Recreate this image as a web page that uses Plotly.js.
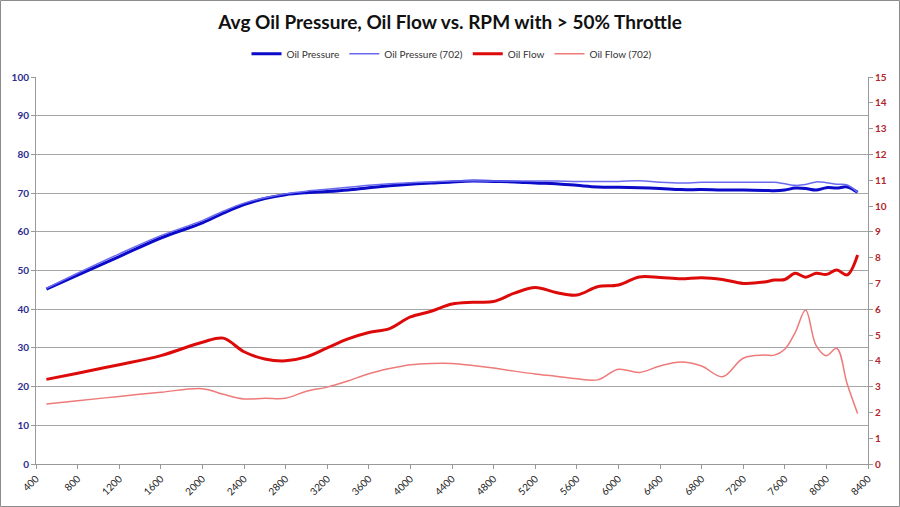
<!DOCTYPE html>
<html>
<head>
<meta charset="utf-8">
<script src="https://cdn.plot.ly/plotly-3.0.1.min.js"></script>
<style>
html,body{margin:0;padding:0;background:#fff;}
#chart{width:900px;height:507px;}
</style>
</head>
<body>
<div id="chart"></div>
<script>
const rpm = [500, 800, 1200, 1600, 2000, 2200, 2400, 2600, 2800, 3000, 3200, 3400, 3600, 3800, 4000, 4200, 4400, 4600, 4800, 5000, 5200, 5400, 5600, 5800, 6000, 6200, 6400, 6600, 6800, 7000, 7200, 7400, 7500, 7600, 7700, 7800, 7900, 8000, 8100, 8200, 8300];

const oilPressure = [45.2, 48.8, 53.6, 58.4, 62.3, 64.8, 67.0, 68.6, 69.6, 70.1, 70.4, 70.8, 71.4, 71.9, 72.3, 72.6, 72.9, 73.1, 73.0, 72.9, 72.6, 72.4, 72.0, 71.6, 71.5, 71.4, 71.2, 70.9, 70.9, 70.8, 70.8, 70.7, 70.6, 70.8, 71.3, 71.2, 70.8, 71.4, 71.3, 71.6, 70.2];

const oilPressure702 = [45.4, 49.3, 54.3, 59.0, 62.9, 65.3, 67.4, 68.8, 69.8, 70.5, 71.0, 71.5, 72.0, 72.4, 72.7, 72.9, 73.1, 73.2, 73.1, 73.1, 73.1, 73.1, 73.0, 73.0, 73.0, 73.2, 72.8, 72.6, 72.8, 72.8, 72.8, 72.8, 72.8, 72.4, 72.0, 72.2, 72.9, 72.7, 72.3, 72.1, 70.2];

const oilFlow = [3.28, 3.52, 3.85, 4.2, 4.72, 4.88, 4.35, 4.07, 4.0, 4.15, 4.5, 4.85, 5.1, 5.25, 5.7, 5.92, 6.2, 6.27, 6.3, 6.62, 6.84, 6.65, 6.55, 6.87, 6.94, 7.25, 7.23, 7.18, 7.22, 7.15, 7.0, 7.05, 7.13, 7.15, 7.39, 7.24, 7.39, 7.35, 7.52, 7.33, 8.1];

const oilFlow702 = [2.33, 2.45, 2.62, 2.78, 2.92, 2.7, 2.52, 2.55, 2.55, 2.82, 2.98, 3.22, 3.5, 3.7, 3.85, 3.9, 3.9, 3.82, 3.72, 3.6, 3.49, 3.4, 3.3, 3.26, 3.67, 3.55, 3.8, 3.95, 3.8, 3.38, 4.1, 4.22, 4.22, 4.45, 5.1, 5.97, 4.6, 4.2, 4.48, 3.1, 1.96];

const xTicks = [400, 800, 1200, 1600, 2000, 2400, 2800, 3200, 3600, 4000, 4400, 4800, 5200, 5600, 6000, 6400, 6800, 7200, 7600, 8000, 8400];

const FONT = 'Lato, "Open Sans", sans-serif';

const traces = [
  {x: rpm, y: oilPressure, name: 'Oil Pressure', type: 'scatter', mode: 'lines',
   line: {color: '#0a0ac8', width: 3, shape: 'spline', smoothing: 1}, yaxis: 'y'},
  {x: rpm, y: oilPressure702, name: 'Oil Pressure (702)', type: 'scatter', mode: 'lines',
   line: {color: '#6a6af0', width: 1.5, shape: 'spline', smoothing: 1}, yaxis: 'y'},
  {x: rpm, y: oilFlow, name: 'Oil Flow', type: 'scatter', mode: 'lines',
   line: {color: '#dd0a0a', width: 3, shape: 'spline', smoothing: 1}, yaxis: 'y2'},
  {x: rpm, y: oilFlow702, name: 'Oil Flow (702)', type: 'scatter', mode: 'lines',
   line: {color: '#ee7a7a', width: 1.5, shape: 'spline', smoothing: 1}, yaxis: 'y2'}
];

const W = 832, H = 387;
const layout = {
  width: 900, height: 507,
  margin: {l: 36, r: 32, t: 77, b: 43, pad: 0},
  paper_bgcolor: '#fff', plot_bgcolor: '#fff',
  font: {family: FONT, size: 10, color: '#222'},
  title: {text: 'Avg Oil Pressure, Oil Flow vs. RPM with > 50% Throttle',
          font: {family: FONT, size: 19, color: '#111', weight: 'bold'},
          x: 0.5, xanchor: 'center', y: 0.955, yanchor: 'middle'},
  showlegend: true,
  legend: {orientation: 'h', x: 0.5, xanchor: 'center', y: 1.06, yanchor: 'middle',
           font: {family: FONT, size: 10, color: '#333'}, itemwidth: 30, bgcolor: 'rgba(0,0,0,0)'},
  xaxis: {range: [400, 8400], tickmode: 'array', tickvals: xTicks, ticktext: xTicks.map(String),
          tickangle: -45, ticks: 'outside', ticklen: 4, tickcolor: '#999',
          showline: true, linecolor: '#999', linewidth: 1, showgrid: false, zeroline: false,
          tickfont: {family: FONT, size: 10, color: '#222'}, fixedrange: true},
  yaxis: {range: [0, 100], dtick: 10, ticks: 'outside', ticklen: 4, tickcolor: '#999',
          showline: true, linecolor: '#999', linewidth: 1, showgrid: true, gridcolor: '#a6a6a6',
          gridwidth: 1, zeroline: false,
          tickfont: {family: FONT, size: 10, color: '#2b2b8f', weight: 'bold'}},
  yaxis2: {range: [0, 15], dtick: 1, overlaying: 'y', side: 'right', ticks: 'outside', ticklen: 4,
           tickcolor: '#999', showline: true, linecolor: '#999', linewidth: 1, showgrid: false,
           zeroline: false, tickfont: {family: FONT, size: 10, color: '#b3242b', weight: 'bold'}},
  shapes: [{type: 'rect', xref: 'paper', yref: 'paper',
            x0: (0.5 - 36) / W, x1: (899.5 - 36) / W,
            y0: (464 - 506.5) / H, y1: (464 - 0.5) / H,
            line: {color: '#8c8c8c', width: 1}, fillcolor: 'rgba(0,0,0,0)'}]
};

Plotly.newPlot('chart', traces, layout, {displayModeBar: false, staticPlot: true});
</script>
</body>
</html>
